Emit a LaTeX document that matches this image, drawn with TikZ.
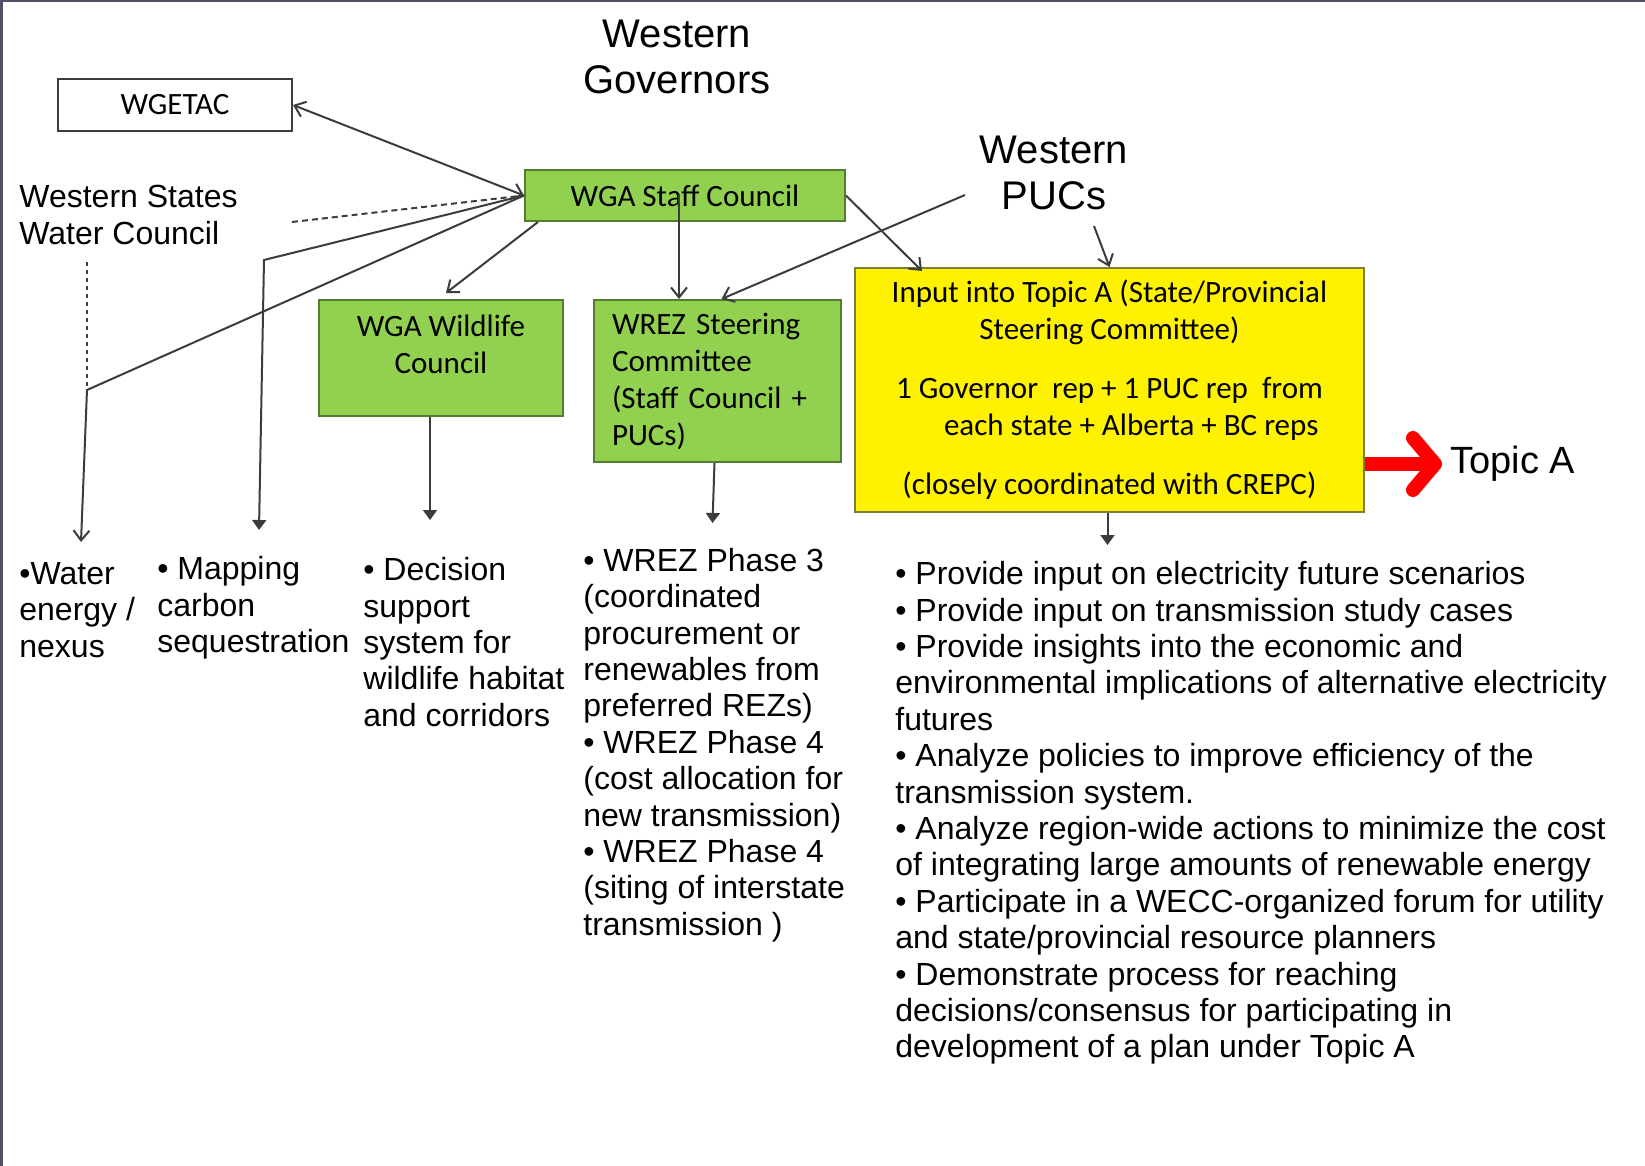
\documentclass[tikz,border=0pt]{standalone}
\usepackage{fontspec}
\setmainfont{Liberation Sans}
\newfontfamily\boxfont{Carlito}
\usetikzlibrary{arrows.meta}
\definecolor{boxgreen}{RGB}{146,208,80}
\definecolor{greenedge}{RGB}{85,125,50}
\definecolor{edgeyellow}{RGB}{125,125,60}
\definecolor{framegray}{RGB}{80,80,100}
\definecolor{linegray}{RGB}{60,60,60}

\begin{document}
\begin{tikzpicture}[x=0.5pt,y=-0.5pt,
  greenbox/.style={draw=greenedge,fill=boxgreen,line width=1pt,font=\boxfont\fontsize{15.5pt}{18.5pt}\selectfont},
  plainbox/.style={draw=linegray,line width=1pt,font=\boxfont\fontsize{15.5pt}{18.5pt}\selectfont},
  bigtext/.style={font=\fontsize{20pt}{23pt}\selectfont,align=center,inner sep=0pt},
  listtext/.style={font=\fontsize{16pt}{18.2pt}\selectfont,align=left,anchor=west,inner sep=0pt},
  barb/.style={draw=linegray,line width=1pt,-{Straight Barb[length=5pt,width=8pt]}},
  tri/.style={draw=linegray,line width=1pt,-{Triangle[length=5pt,width=7pt]}}]
  \useasboundingbox (0,0) rectangle (1645,1166);
  \fill[framegray] (0,0) rectangle (3,1166);
  \fill[framegray] (0,0) rectangle (1645,2);

  \node[bigtext] (gov) at (677,57) {Western\\Governors};
  \node[bigtext] (pucs) at (1054,173) {Western\\PUCs};
  \node[plainbox,minimum width=117pt,minimum height=26pt] (wgetac) at (175,105) {WGETAC};
  \node[greenbox,minimum width=160pt,minimum height=25.5pt] (staff) at (685,195.5) {WGA Staff Council};
  \node[greenbox,minimum width=122pt,minimum height=58pt,align=center] (wildlife) at (441,358) {WGA Wildlife\\Council\\[-10.5pt]\strut};
  \node[greenbox,minimum width=123.5pt,minimum height=81pt,text width=105.5pt,inner xsep=9pt,align=left] (wrez) at (717.5,381) {WREZ Steering\\Committee\\(Staff Council +\\PUCs)};
  \node[draw=edgeyellow,fill=yellow,line width=1pt,font=\boxfont\fontsize{15.5pt}{18.5pt}\selectfont,minimum width=254.5pt,minimum height=122pt,align=center] (input) at (1109.5,390) {Input into Topic A (State/Provincial\\Steering Committee)\\[11pt]1 Governor\ \ rep + 1 PUC rep\ \ from\\\hspace*{1.4em}each state + Alberta + BC reps\\[11pt](closely coordinated with CREPC)};
  \node[font=\fontsize{16pt}{18.5pt}\selectfont,align=left,inner sep=0pt,anchor=west] (water) at (19,215) {Western States\\Water Council};
  \node[font=\fontsize{19pt}{22pt}\selectfont,inner sep=0pt,anchor=west] (topica) at (1450,464) {Topic A};

  \node[listtext] (nexus) at (19,610) {•Water\\energy /\\nexus};
  \node[listtext] (carbon) at (157,608) {• Mapping\\carbon\\sequestration};
  \node[listtext] (decision) at (363,642) {• Decision\\support\\system for\\wildlife habitat\\and corridors};
  \node[listtext] (phases) at (583,745) {• WREZ Phase 3\\(coordinated\\procurement or\\renewables from\\preferred REZs)\\• WREZ Phase 4\\(cost allocation for\\new transmission)\\• WREZ Phase 4\\(siting of interstate\\transmission )};
  \node[listtext] (tasks) at (895,813) {• Provide input on electricity future scenarios\\• Provide input on transmission study cases\\• Provide insights into the economic and\\environmental implications of alternative electricity\\futures\\• Analyze policies to improve efficiency of the\\transmission system.\\• Analyze region-wide actions to minimize the cost\\of integrating large amounts of renewable energy\\• Participate in a WECC-organized forum for utility\\and state/provincial resource planners\\• Demonstrate process for reaching\\decisions/consensus for participating in\\development of a plan under Topic A};

  \coordinate (watertop) at (87,262);
  \coordinate (waterbend) at (87,390);
  \coordinate (carbonbend) at (264,260);
  \coordinate (waterdots) at (292,222);
  \coordinate (pucsleft) at (965,195);
  \coordinate (pucsfoot) at (1094,226);

  \draw[linegray,line width=1pt,{Straight Barb[length=5pt,width=8pt]}-{Straight Barb[length=5pt,width=8pt]}] (wgetac.east) -- (staff.west);
  \draw[linegray,line width=1pt,dash pattern=on 3pt off 2pt] (waterdots) -- (staff.west);
  \draw[linegray,line width=1pt,dash pattern=on 2pt off 2pt] (watertop) -- (waterbend);
  \draw[barb] (staff.west) -- (waterbend) -- +(-6,152);
  \draw[tri] (staff.west) -- (carbonbend) -- +(-5,270);
  \draw[barb] ([xshift=7pt]staff.south west) -- ([shift={(2.5pt,3pt)}]wildlife.north);
  \draw[barb] ([xshift=-3pt]staff.center) -- ([xshift=-3pt]staff.center |- wrez.north);
  \draw[barb] (pucsleft) -- ([xshift=2pt]wrez.north);
  \draw[barb] (staff.east) -- ([shift={(34pt,-2pt)}]input.north west);
  \draw[barb] (pucsfoot) -- (input.north);
  \draw[tri] ([xshift=-5.5pt]wildlife.south) -- +(0,103);
  \draw[tri] ([xshift=-1.5pt]wrez.south) -- +(-2,60);
  \draw[tri] ([xshift=-1pt]input.south) -- +(0,32);
  \draw[red,line width=7pt,-{Straight Barb[length=11pt,width=26pt,round]}] (input.east |- topica.west) -- ([xshift=-4pt]topica.west);
\end{tikzpicture}
\end{document}
